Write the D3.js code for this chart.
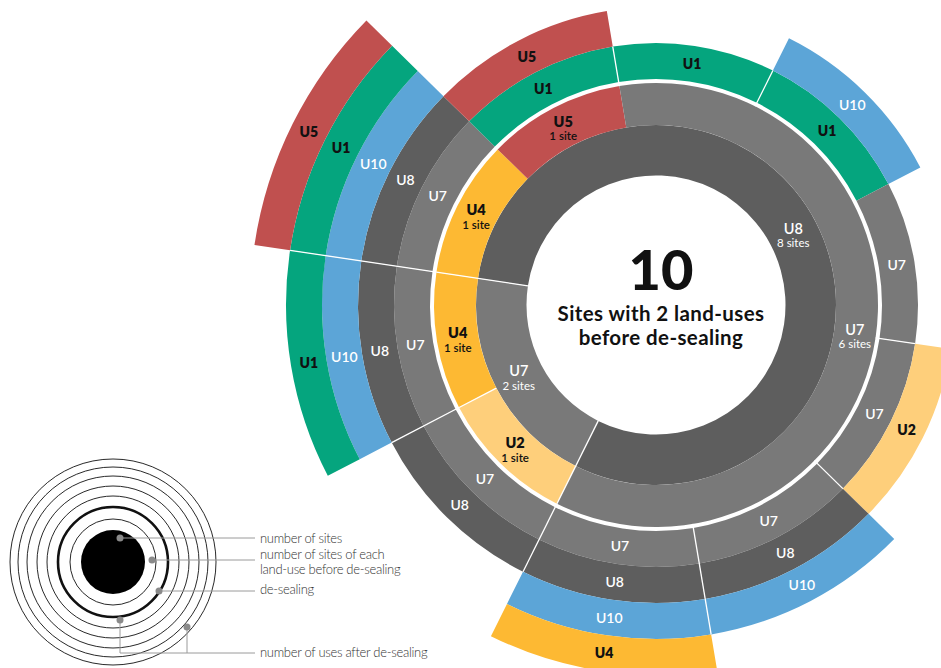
<!DOCTYPE html>
<html><head><meta charset="utf-8">
<script src="https://cdn.jsdelivr.net/npm/d3@7"></script>
<style>
body{margin:0;background:#fff;}
svg{display:block;}
</style>
</head><body>
<svg id="chart" width="941" height="668"></svg>
<script>
// ---------------- DATA ----------------
// one entry per site, clockwise
const ring1Uses = ["U8","U8","U8","U8","U8","U8","U8","U8","U7","U7"];
const ring2Uses = ["U4","U5","U7","U7","U7","U7","U7","U7","U2","U4"];
const afterUses = [
  ["U7","U8","U10","U1","U5"],
  ["U1","U5"],
  ["U1"],
  ["U1","U10"],
  ["U7"],
  ["U7","U2"],
  ["U7","U8","U10"],
  ["U7","U8","U10","U4"],
  ["U7","U8"],
  ["U7","U8","U10","U1"]
];
const useNames  = ["U1","U2","U4","U5","U7","U8","U10"];
const useColors = ["#05a57e","#fecf7b","#fdb933","#c0504f","#797979","#5e5e5e","#5ca5d7"];
const darkText  = ["U1","U2","U4","U5"];
const centerNumber = "10";
const centerLines = ["Sites with 2 land-uses","before de-sealing"];
const legendTexts = ["number of sites","number of sites of each","land-use before de-sealing","de-sealing","number of uses after de-sealing"];

// ---------------- LAYOUT ----------------
const svg = d3.select("#chart");
const cx = 656, cy = 305;
const nSites = ring1Uses.length;
const startDeg = 278.5;
const angle = d3.scaleLinear().domain([0, nSites])
  .range([startDeg*Math.PI/180, (startDeg+360)*Math.PI/180]);
const r0 = 129.5, r1 = 180, r2 = 222;
const maxRings = d3.max(afterUses, d => d.length);
const outerR = d3.scaleLinear().domain([0, maxRings]).range([226, 406]);
const color = d3.scaleOrdinal().domain(useNames).range(useColors);
const textColor = u => darkText.includes(u) ? "#111" : "#fff";
const FONT = "Lato, 'Open Sans', sans-serif";

const g = svg.append("g").attr("transform", `translate(${cx},${cy})`);
const arc = d3.arc();

// group consecutive runs
function runs(keyFn) {
  const out = [];
  for (let i = 0; i < nSites; i++) {
    const k = keyFn(i);
    if (out.length && out[out.length-1].key === k) out[out.length-1].end = i+1;
    else out.push({key: k, start: i, end: i+1});
  }
  return out;
}
const ring1Runs = runs(i => ring1Uses[i]).map(d => ({...d, use: d.key}));
const ring2Runs = runs(i => ring1Uses[i] + "|" + ring2Uses[i]).map(d => ({...d, use: ring2Uses[d.start]}));

function drawRing(data, rin, rout) {
  g.append("g").selectAll("path").data(data).join("path")
    .attr("d", d => arc({innerRadius: rin, outerRadius: rout,
        startAngle: angle(d.start), endAngle: angle(d.end)}))
    .attr("fill", d => color(d.use));
}
drawRing(ring1Runs, r0, r1);
drawRing(ring2Runs, r1, r2);

// outer rings
const outerCells = [];
afterUses.forEach((uses, i) => uses.forEach((u, j) => outerCells.push({site: i, ring: j, use: u})));
g.append("g").selectAll("path").data(outerCells).join("path")
  .attr("d", d => arc({innerRadius: outerR(d.ring), outerRadius: outerR(d.ring+1),
      startAngle: angle(d.site), endAngle: angle(d.site+1)}))
  .attr("fill", d => color(d.use));

// separators
const radial = d3.lineRadial();
const seps = [];
for (let k = 0; k < nSites; k++) {
  const a = (k + nSites - 1) % nSites, b = k, ang = angle(k);
  if (ring1Uses[a] !== ring1Uses[b]) seps.push([ang, r0, r2]);
  else {
    const grp = ring1Runs.find(r => r.start < k && r.end > k);
    if (grp && grp.end - grp.start <= 2) seps.push([ang, r1, r2]);
  }
  let same = 0;
  while (same < afterUses[a].length && same < afterUses[b].length && afterUses[a][same] === afterUses[b][same]) same++;
  if (same > 0) seps.push([ang, outerR(0) - 4, outerR(same)]);
}
g.append("g").selectAll("path").data(seps).join("path")
  .attr("d", d => radial([[d[0], d[1]], [d[0], d[2]]]))
  .attr("stroke", "#fff").attr("stroke-width", 1.3).attr("fill", "none");

// inner labels
function innerLabels(data, rin, rout) {
  const lg = g.append("g").selectAll("g").data(data).join("g")
    .attr("transform", d => {
      const c = arc.centroid({innerRadius: rin, outerRadius: rout, startAngle: angle(d.start), endAngle: angle(d.end)});
      return `translate(${c[0]},${c[1]})`;
    });
  lg.append("text").attr("y", 0).attr("text-anchor", "middle")
    .attr("font-family", FONT).attr("font-size", 14.5).attr("font-weight", d => darkText.includes(d.use) ? 800 : 600)
    .attr("fill", d => textColor(d.use)).text(d => d.use);
  lg.append("text").attr("y", 13.5).attr("text-anchor", "middle")
    .attr("font-family", FONT).attr("font-size", 11.5).attr("font-weight", d => darkText.includes(d.use) ? 600 : 400)
    .attr("fill", d => textColor(d.use))
    .text(d => { const n = d.end - d.start; return n === 1 ? "1 site" : n + " sites"; });
}
innerLabels(ring1Runs, r0, r1);
innerLabels(ring2Runs, r1, r2);

// outer labels
g.append("g").selectAll("text").data(outerCells).join("text")
  .attr("transform", d => {
    const c = arc.centroid({innerRadius: outerR(d.ring), outerRadius: outerR(d.ring+1), startAngle: angle(d.site), endAngle: angle(d.site+1)});
    return `translate(${c[0]},${c[1] + 5})`;
  })
  .attr("text-anchor", "middle").attr("font-family", FONT).attr("font-size", 14)
  .attr("font-weight", d => darkText.includes(d.use) ? 800 : 600)
  .attr("fill", d => textColor(d.use)).text(d => d.use);

// center text
svg.append("text").attr("x", 661).attr("y", 290).attr("text-anchor", "middle")
  .attr("font-family", FONT).attr("font-size", 56).attr("font-weight", 900).attr("fill", "#111").text(centerNumber);
svg.append("g").selectAll("text").data(centerLines).join("text")
  .attr("x", 661).attr("y", (d, i) => 321 + i * 23.5).attr("text-anchor", "middle")
  .attr("font-family", FONT).attr("font-size", 20.5).attr("font-weight", 700)
  .attr("letter-spacing", 0.4).attr("fill", "#111").text(d => d);

// ---------------- LEGEND ----------------
const lx = 113, ly = 562;
const leg = svg.append("g");
const legRadii = [43, 55, 66, 76, 86, 95, 103];
leg.selectAll("circle.r").data(legRadii).join("circle")
  .attr("cx", lx).attr("cy", ly).attr("r", d => d).attr("fill", "none")
  .attr("stroke", "#111").attr("stroke-width", d => d === 55 ? 2.6 : 0.9);
leg.append("circle").attr("cx", lx).attr("cy", ly).attr("r", 32).attr("fill", "#000");

const lineColor = "#9a9a9a";
const textX = 260, lineEnd = 255;
const leaders = [
  {pts: [[120,538],[lineEnd,538]], dot: [[120,538]]},
  {pts: [[152,560],[lineEnd,560]], dot: [[152,560]]},
  {pts: [[159,591],[lineEnd,591]], dot: [[159,591]]},
  {pts: [[120,620],[120,653],[lineEnd,653]], dot: [[120,620]]},
  {pts: [[187,627],[187,653]], dot: [[187,627]]}
];
leg.selectAll("path.ld").data(leaders).join("path")
  .attr("d", d => d3.line()(d.pts)).attr("fill", "none").attr("stroke", lineColor).attr("stroke-width", 1);
leg.selectAll("circle.dot").data(leaders.flatMap(d => d.dot)).join("circle")
  .attr("cx", d => d[0]).attr("cy", d => d[1]).attr("r", 3.5).attr("fill", "#8a8a8a");
const legendY = [543, 559, 574, 594, 657];
leg.selectAll("text").data(legendTexts).join("text")
  .attr("x", textX).attr("y", (d, i) => legendY[i])
  .attr("font-family", FONT).attr("font-size", 13).attr("font-weight", 300)
  .attr("letter-spacing", -0.3).attr("fill", "#333").text(d => d);
</script>
</body></html>
